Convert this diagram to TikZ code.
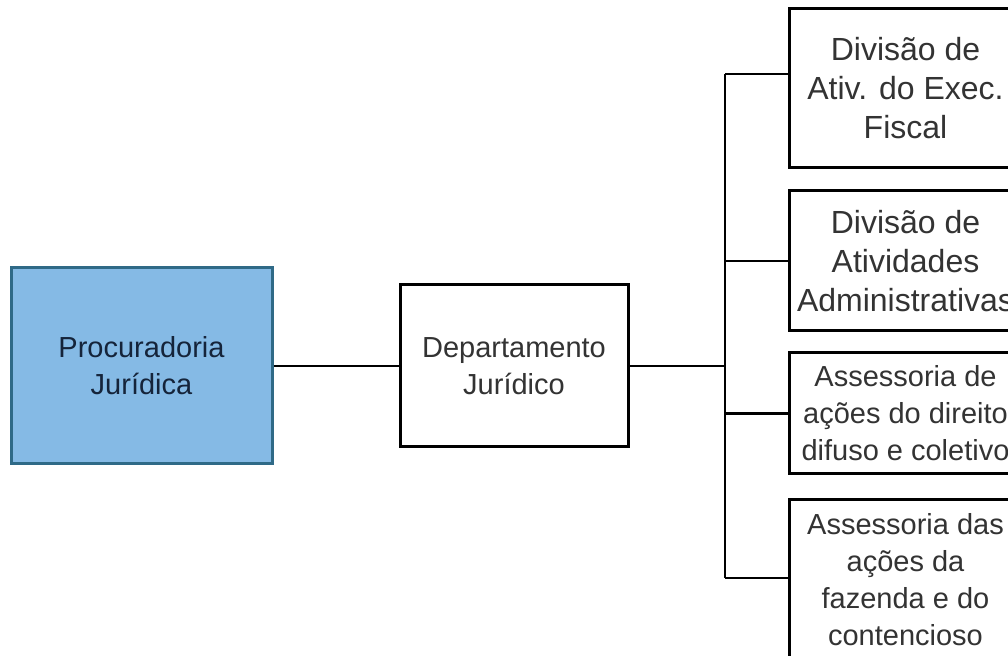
\documentclass[tikz,border=0pt]{standalone}
\usepackage{fontspec}
\setmainfont{Liberation Sans}
\usetikzlibrary{positioning,calc}
\definecolor{procfill}{HTML}{85BAE5}
\definecolor{procdraw}{HTML}{2F6A87}
\definecolor{proctext}{HTML}{15243A}
\definecolor{boxtext}{HTML}{333333}

\begin{document}
\begin{tikzpicture}[x=0.5pt,y=-0.5pt,
  unit/.style={rectangle,draw=black,line width=1.5pt,fill=white,align=center,inner sep=0pt,text=boxtext,font=\fontsize{14.5}{18.5}\selectfont},
  bigunit/.style={unit,font=\fontsize{16}{19.5}\selectfont},
  root/.style={unit,draw=procdraw,fill=procfill,text=proctext},
  link/.style={line width=1.4pt,draw=black}]
\useasboundingbox (0,0) rectangle (1008,656);
% left part
\node(proc)[root,minimum width=130.5pt,minimum height=98pt] at (141.5,366) {Procuradoria\\Jurídica};
\node(dept)[unit,minimum width=114pt,minimum height=81pt] at (514,366) {Departamento\\Jurídico};
% right column (cut off by the page edge)
\node(div1)[bigunit,minimum width=116.5pt,minimum height=79.5pt] at (905.5,88.5) {Divisão de\\Ativ. do Exec.\\Fiscal};
\node(div2)[bigunit,minimum width=116.5pt,minimum height=70pt] at (905.5,261) {Divisão de\\Atividades\\Administrativas};
\node(ass1)[unit,minimum width=116.5pt,minimum height=60.5pt] at (905.5,413.5) {Assessoria de\\ações do direito\\difuso e coletivo};
\node(ass2)[unit,minimum width=116.5pt,minimum height=80pt] at (905.5,580) {Assessoria das\\ações da\\fazenda e do\\contencioso};
% connectors
\coordinate(top) at (725,74);
\coordinate(bot) at (725,578);
\coordinate(mid) at (725,366);
\draw[link](proc.east) -- (dept.west);
\draw[link](dept.east) -- (mid);
\draw[link](top) -- (bot);
\draw[link](top) -- (top -| div1.west);
\draw[link](top |- div2.west) -- (div2.west);
\draw[link](top |- ass1.west) -- (ass1.west);
\draw[link](bot) -- (bot -| ass2.west);
\end{tikzpicture}
\end{document}
